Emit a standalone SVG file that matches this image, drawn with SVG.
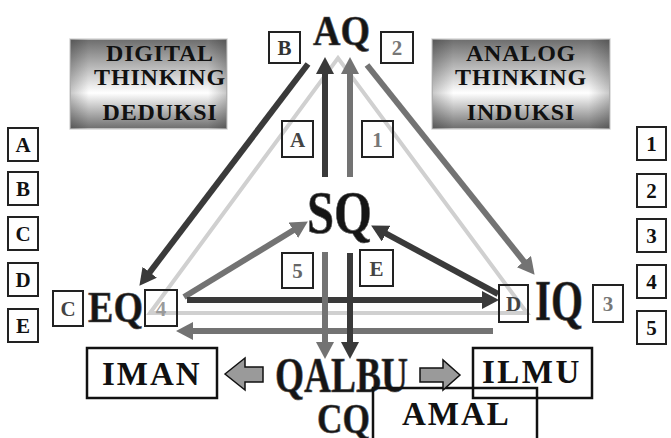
<svg xmlns="http://www.w3.org/2000/svg" width="671" height="438" viewBox="0 0 671 438">
<style>
  text { font-family: "Liberation Serif", "Times New Roman", serif; font-weight: bold; }
  .big { fill: #151515; stroke: #5a5a5a; stroke-width: 0.7; }
  .hdr { font-size: 24px; fill: #111; text-anchor: middle; letter-spacing: 0.8px; }
  .sbox { fill: none; stroke: #222; stroke-width: 2; }
  .slab { font-size: 21px; text-anchor: middle; }
  .bbox { fill: none; stroke: #111; stroke-width: 2.5; }
  .blab { font-size: 33px; fill: #111; }
  .dark { stroke: #3a3a3a; stroke-width: 6; fill: none; }
  .mid { stroke: #737373; stroke-width: 6; fill: none; }
  .light { stroke: #d0d0d0; stroke-width: 4; fill: none; }
  .barrow { fill: #9a9a9a; stroke: #111; stroke-width: 1.5; }
</style>
<defs>
  <linearGradient id="gv" x1="0" y1="0" x2="0" y2="1">
    <stop offset="0" stop-color="#6c6c6c"/>
    <stop offset="0.6" stop-color="#ffffff"/>
    <stop offset="1" stop-color="#6c6c6c"/>
  </linearGradient>
  <linearGradient id="gh" x1="0" y1="0" x2="1" y2="0">
    <stop offset="0" stop-color="#000" stop-opacity="0.22"/>
    <stop offset="0.12" stop-color="#000" stop-opacity="0"/>
    <stop offset="0.88" stop-color="#000" stop-opacity="0"/>
    <stop offset="1" stop-color="#000" stop-opacity="0.22"/>
  </linearGradient>
  <marker id="hDark" markerUnits="userSpaceOnUse" markerWidth="17" markerHeight="18" viewBox="0 0 17 18" refX="1" refY="9" orient="auto">
    <path d="M0,0 L17,9 L0,18 z" fill="#3a3a3a"/>
  </marker>
  <marker id="hMid" markerUnits="userSpaceOnUse" markerWidth="17" markerHeight="18" viewBox="0 0 17 18" refX="1" refY="9" orient="auto">
    <path d="M0,0 L17,9 L0,18 z" fill="#737373"/>
  </marker>
</defs>

<rect width="671" height="438" fill="#ffffff"/>

<g id="digital-box">
  <rect x="70" y="39" width="157" height="90" fill="url(#gv)" stroke="#d8d8d8" stroke-width="1.5"/>
  <rect x="70" y="39" width="157" height="90" fill="url(#gh)"/>
  <text class="hdr" x="160" y="61">DIGITAL</text>
  <text class="hdr" x="160" y="85">THINKING</text>
  <text class="hdr" x="160" y="120">DEDUKSI</text>
</g>
<g id="analog-box">
  <rect x="432" y="39" width="178" height="90" fill="url(#gv)" stroke="#d8d8d8" stroke-width="1.5"/>
  <rect x="432" y="39" width="178" height="90" fill="url(#gh)"/>
  <text class="hdr" x="521" y="61">ANALOG</text>
  <text class="hdr" x="521" y="85">THINKING</text>
  <text class="hdr" x="521" y="120">INDUKSI</text>
</g>

<g id="connectors">
  <polygon class="light" points="150,313 338,58 527,313"/>
  <line class="dark" x1="325" y1="177" x2="325" y2="73" marker-end="url(#hDark)"/>
  <line class="mid" x1="350" y1="177" x2="350" y2="73" marker-end="url(#hMid)"/>
  <line class="dark" x1="308" y1="64" x2="149.1" y2="273.1" marker-end="url(#hDark)"/>
  <line class="mid" x1="367" y1="65" x2="524.6" y2="262.3" marker-end="url(#hMid)"/>
  <line class="mid" x1="184" y1="297" x2="294.2" y2="229.8" marker-end="url(#hMid)"/>
  <line class="dark" x1="498" y1="294" x2="385.2" y2="233.1" marker-end="url(#hDark)"/>
  <line class="dark" x1="187" y1="300" x2="483" y2="300" marker-end="url(#hDark)"/>
  <line class="mid" x1="493" y1="331" x2="192" y2="331" marker-end="url(#hMid)"/>
  <line class="mid" x1="325" y1="252" x2="325" y2="343" marker-end="url(#hMid)"/>
  <line class="dark" x1="350" y1="253" x2="350" y2="343" marker-end="url(#hDark)"/>
</g>

<g id="legend-left">
  <rect class="sbox" x="8" y="128" width="30" height="33"/><text class="slab" x="23" y="152" fill="#111">A</text>
  <rect class="sbox" x="8" y="172" width="30" height="33"/><text class="slab" x="23" y="196" fill="#111">B</text>
  <rect class="sbox" x="8" y="217" width="30" height="33"/><text class="slab" x="23" y="241" fill="#111">C</text>
  <rect class="sbox" x="8" y="263" width="30" height="33"/><text class="slab" x="23" y="287" fill="#111">D</text>
  <rect class="sbox" x="8" y="309" width="30" height="33"/><text class="slab" x="23" y="333" fill="#111">E</text>
</g>
<g id="legend-right">
  <rect class="sbox" x="637" y="127" width="29" height="33"/><text class="slab" x="651.5" y="151" fill="#111">1</text>
  <rect class="sbox" x="637" y="174" width="29" height="33"/><text class="slab" x="651.5" y="198" fill="#111">2</text>
  <rect class="sbox" x="637" y="219" width="29" height="33"/><text class="slab" x="651.5" y="243" fill="#111">3</text>
  <rect class="sbox" x="637" y="265" width="29" height="33"/><text class="slab" x="651.5" y="289" fill="#111">4</text>
  <rect class="sbox" x="637" y="311" width="29" height="33"/><text class="slab" x="651.5" y="335" fill="#111">5</text>
</g>

<g id="labels">
  <rect class="sbox" x="269" y="32" width="31" height="31"/><text class="slab" x="284.5" y="55" fill="#333">B</text>
  <rect class="sbox" x="381" y="32" width="32" height="31"/><text class="slab" x="397" y="55" fill="#777">2</text>
  <rect class="sbox" x="282" y="121" width="31" height="36"/><text class="slab" x="297.5" y="147" fill="#444">A</text>
  <rect class="sbox" x="362" y="121" width="31" height="36"/><text class="slab" x="377.5" y="147" fill="#777">1</text>
  <rect class="sbox" x="282" y="253" width="31" height="35"/><text class="slab" x="297.5" y="278" fill="#666">5</text>
  <rect class="sbox" x="360" y="250" width="33" height="36"/><text class="slab" x="376.5" y="276" fill="#444">E</text>
  <rect class="sbox" x="53" y="291" width="30" height="35"/><text class="slab" x="68" y="316" fill="#444">C</text>
  <rect class="sbox" x="145" y="290" width="32" height="36"/><text class="slab" x="161" y="316" fill="#9a9a9a">4</text>
  <rect class="sbox" x="499" y="285" width="29" height="37"/><text class="slab" x="513.5" y="311" fill="#444">D</text>
  <rect class="sbox" x="593" y="285" width="30" height="37"/><text class="slab" x="608" y="311" fill="#777">3</text>
</g>

<g id="AQ"><text class="big" x="313" y="45" font-size="42" textLength="57" lengthAdjust="spacingAndGlyphs">AQ</text></g>
<g id="SQ"><text class="big" x="307" y="233" font-size="62" textLength="65" lengthAdjust="spacingAndGlyphs">SQ</text></g>
<g id="EQ"><text class="big" x="88" y="322" font-size="45" textLength="55" lengthAdjust="spacingAndGlyphs">EQ</text></g>
<g id="IQ"><text class="big" x="535" y="320" font-size="56" textLength="48" lengthAdjust="spacingAndGlyphs">IQ</text></g>
<g id="QALBU"><text class="big" x="275" y="392" font-size="51" textLength="133" lengthAdjust="spacingAndGlyphs">QALBU</text></g>
<g id="CQ"><text class="big" x="317" y="433" font-size="42" textLength="53" lengthAdjust="spacingAndGlyphs">CQ</text></g>

<g id="IMAN">
  <rect class="bbox" x="87" y="348" width="130" height="50"/>
  <text class="blab" x="102" y="385" letter-spacing="2">IMAN</text>
</g>
<g id="ILMU">
  <rect class="bbox" x="473" y="348" width="119" height="50"/>
  <text class="blab" x="482" y="383" letter-spacing="2.5">ILMU</text>
</g>
<g id="AMAL">
  <rect class="bbox" x="373" y="388" width="164" height="52"/>
  <text class="blab" x="402" y="425" letter-spacing="2">AMAL</text>
</g>
<g id="arrow-iman">
  <path class="barrow" d="M225,374 L245,358 L245,367 L263,367 L263,382 L245,382 L245,390 Z"/>
</g>
<g id="arrow-ilmu">
  <path class="barrow" d="M460,375 L443,360 L443,368 L420,368 L420,382 L443,382 L443,390 Z"/>
</g>
</svg>
